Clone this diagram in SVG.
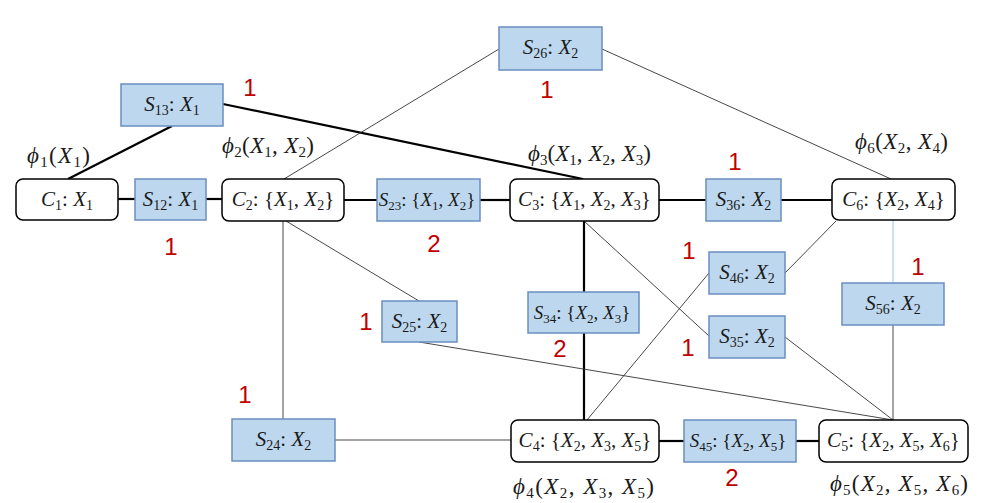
<svg xmlns="http://www.w3.org/2000/svg" width="986" height="503" viewBox="0 0 986 503">
<style>
.clq{fill:#fff;stroke:#000;stroke-width:1.5}
.sep{fill:#BDD7EE;stroke:#6A8FC0;stroke-width:1.5}
.lbl{font-family:"Liberation Serif","DejaVu Serif",serif;font-size:21px;fill:#1a1a1a;text-anchor:middle}
.sm{font-size:19px}
.phi{font-family:"Liberation Serif","DejaVu Serif",serif;font-size:23px;fill:#1a1a1a}
.i{font-style:italic}
.s{font-size:14px}
.sm .s{font-size:13px}
.phi .s{font-size:15px}
.num{font-family:"Liberation Sans","Open Sans",sans-serif;font-size:24px;fill:#C00000;text-anchor:middle}
.thick{stroke:#000;stroke-width:2.2;fill:none}
.thin{stroke:#333;stroke-width:0.9;fill:none}
.blue{stroke:#9DC3E6;stroke-width:1;fill:none}
</style>
<rect width="986" height="503" fill="#fff"/>
<g id="connectors">
<line class="thick" x1="118" y1="199" x2="135" y2="199"/>
<line class="thick" x1="206" y1="199" x2="222" y2="199"/>
<line class="thick" x1="344" y1="200" x2="377" y2="200"/>
<line class="thick" x1="480" y1="200" x2="510" y2="200"/>
<line class="thick" x1="659" y1="200" x2="706" y2="200"/>
<line class="thick" x1="781" y1="200" x2="832" y2="200"/>
<line class="thick" x1="584" y1="221" x2="584" y2="292"/>
<line class="thick" x1="584" y1="333" x2="584" y2="420"/>
<line class="thick" x1="659" y1="441" x2="684" y2="441"/>
<line class="thick" x1="796" y1="441" x2="819" y2="441"/>
<line class="thick" x1="172" y1="126" x2="68" y2="179"/>
<line class="thick" x1="223" y1="104" x2="583" y2="179"/>
<line class="thin" x1="499" y1="49" x2="284" y2="179"/>
<line class="thin" x1="602" y1="49" x2="891" y2="179"/>
<line class="thin" x1="286" y1="221" x2="419" y2="301"/>
<line class="thin" x1="419" y1="342" x2="893" y2="420"/>
<line class="thin" x1="283" y1="221" x2="283" y2="419"/>
<line class="thin" x1="335" y1="440" x2="511" y2="440"/>
<line class="thin" x1="584" y1="221" x2="709" y2="336"/>
<line class="thin" x1="785" y1="337" x2="893" y2="420"/>
<line class="thin" x1="587" y1="420" x2="709" y2="273"/>
<line class="thin" x1="785" y1="273" x2="836" y2="221"/>
<line class="blue" x1="893" y1="220" x2="893" y2="283"/>
<line class="thin" x1="893" y1="325" x2="893" y2="420"/>
</g>
<g id="C1"><rect class="clq" x="16" y="179" width="102" height="41" rx="7"/><text class="lbl" x="67" y="206"><tspan class="i">C</tspan><tspan class="s" dy="4">1</tspan><tspan dy="-4">: </tspan><tspan class="i">X</tspan><tspan class="s" dy="4">1</tspan></text></g>
<g id="S12"><rect class="sep" x="135" y="179" width="71" height="41"/><text class="lbl" x="170.5" y="206"><tspan class="i">S</tspan><tspan class="s" dy="4">12</tspan><tspan dy="-4">: </tspan><tspan class="i">X</tspan><tspan class="s" dy="4">1</tspan></text></g>
<g id="C2"><rect class="clq" x="222" y="179" width="122" height="42" rx="7"/><text class="lbl" x="283" y="206"><tspan class="i">C</tspan><tspan class="s" dy="4">2</tspan><tspan dy="-4">: {</tspan><tspan class="i">X</tspan><tspan class="s" dy="4">1</tspan><tspan dy="-4">, </tspan><tspan class="i">X</tspan><tspan class="s" dy="4">2</tspan><tspan dy="-4">}</tspan></text></g>
<g id="S23"><rect class="sep" x="377" y="179" width="103" height="42"/><text class="lbl sm" x="427" y="206"><tspan class="i">S</tspan><tspan class="s" dy="4">23</tspan><tspan dy="-4">: {</tspan><tspan class="i">X</tspan><tspan class="s" dy="4">1</tspan><tspan dy="-4">, </tspan><tspan class="i">X</tspan><tspan class="s" dy="4">2</tspan><tspan dy="-4">}</tspan></text></g>
<g id="C3"><rect class="clq" x="510" y="179" width="149" height="42" rx="7"/><text class="lbl" x="584.5" y="206"><tspan class="i">C</tspan><tspan class="s" dy="4">3</tspan><tspan dy="-4">: {</tspan><tspan class="i">X</tspan><tspan class="s" dy="4">1</tspan><tspan dy="-4">, </tspan><tspan class="i">X</tspan><tspan class="s" dy="4">2</tspan><tspan dy="-4">, </tspan><tspan class="i">X</tspan><tspan class="s" dy="4">3</tspan><tspan dy="-4">}</tspan></text></g>
<g id="S36"><rect class="sep" x="706" y="179" width="75" height="42"/><text class="lbl" x="743.5" y="206"><tspan class="i">S</tspan><tspan class="s" dy="4">36</tspan><tspan dy="-4">: </tspan><tspan class="i">X</tspan><tspan class="s" dy="4">2</tspan></text></g>
<g id="C6"><rect class="clq" x="832" y="179" width="123" height="41" rx="7"/><text class="lbl" x="893.5" y="206"><tspan class="i">C</tspan><tspan class="s" dy="4">6</tspan><tspan dy="-4">: {</tspan><tspan class="i">X</tspan><tspan class="s" dy="4">2</tspan><tspan dy="-4">, </tspan><tspan class="i">X</tspan><tspan class="s" dy="4">4</tspan><tspan dy="-4">}</tspan></text></g>
<g id="S13"><rect class="sep" x="121" y="84" width="102" height="42"/><text class="lbl" x="172" y="111"><tspan class="i">S</tspan><tspan class="s" dy="4">13</tspan><tspan dy="-4">: </tspan><tspan class="i">X</tspan><tspan class="s" dy="4">1</tspan></text></g>
<g id="S26"><rect class="sep" x="499" y="27" width="103" height="43"/><text class="lbl" x="550.5" y="54"><tspan class="i">S</tspan><tspan class="s" dy="4">26</tspan><tspan dy="-4">: </tspan><tspan class="i">X</tspan><tspan class="s" dy="4">2</tspan></text></g>
<g id="S46"><rect class="sep" x="709" y="252" width="76" height="42"/><text class="lbl" x="747" y="279"><tspan class="i">S</tspan><tspan class="s" dy="4">46</tspan><tspan dy="-4">: </tspan><tspan class="i">X</tspan><tspan class="s" dy="4">2</tspan></text></g>
<g id="S35"><rect class="sep" x="709" y="316" width="76" height="42"/><text class="lbl" x="747" y="343"><tspan class="i">S</tspan><tspan class="s" dy="4">35</tspan><tspan dy="-4">: </tspan><tspan class="i">X</tspan><tspan class="s" dy="4">2</tspan></text></g>
<g id="S56"><rect class="sep" x="842" y="283" width="102" height="42"/><text class="lbl" x="893" y="310"><tspan class="i">S</tspan><tspan class="s" dy="4">56</tspan><tspan dy="-4">: </tspan><tspan class="i">X</tspan><tspan class="s" dy="4">2</tspan></text></g>
<g id="S25"><rect class="sep" x="382" y="301" width="75" height="41"/><text class="lbl" x="419.5" y="328"><tspan class="i">S</tspan><tspan class="s" dy="4">25</tspan><tspan dy="-4">: </tspan><tspan class="i">X</tspan><tspan class="s" dy="4">2</tspan></text></g>
<g id="S34"><rect class="sep" x="528" y="292" width="111" height="41"/><text class="lbl sm" x="582" y="319"><tspan class="i">S</tspan><tspan class="s" dy="4">34</tspan><tspan dy="-4">: {</tspan><tspan class="i">X</tspan><tspan class="s" dy="4">2</tspan><tspan dy="-4">, </tspan><tspan class="i">X</tspan><tspan class="s" dy="4">3</tspan><tspan dy="-4">}</tspan></text></g>
<g id="S24"><rect class="sep" x="232" y="419" width="103" height="42"/><text class="lbl" x="283.5" y="446"><tspan class="i">S</tspan><tspan class="s" dy="4">24</tspan><tspan dy="-4">: </tspan><tspan class="i">X</tspan><tspan class="s" dy="4">2</tspan></text></g>
<g id="C4"><rect class="clq" x="511" y="420" width="148" height="42" rx="7"/><text class="lbl" x="585" y="447"><tspan class="i">C</tspan><tspan class="s" dy="4">4</tspan><tspan dy="-4">: {</tspan><tspan class="i">X</tspan><tspan class="s" dy="4">2</tspan><tspan dy="-4">, </tspan><tspan class="i">X</tspan><tspan class="s" dy="4">3</tspan><tspan dy="-4">, </tspan><tspan class="i">X</tspan><tspan class="s" dy="4">5</tspan><tspan dy="-4">}</tspan></text></g>
<g id="S45"><rect class="sep" x="684" y="420" width="112" height="42"/><text class="lbl sm" x="738" y="447"><tspan class="i">S</tspan><tspan class="s" dy="4">45</tspan><tspan dy="-4">: {</tspan><tspan class="i">X</tspan><tspan class="s" dy="4">2</tspan><tspan dy="-4">, </tspan><tspan class="i">X</tspan><tspan class="s" dy="4">5</tspan><tspan dy="-4">}</tspan></text></g>
<g id="C5"><rect class="clq" x="819" y="420" width="149" height="42" rx="7"/><text class="lbl" x="893.5" y="447"><tspan class="i">C</tspan><tspan class="s" dy="4">5</tspan><tspan dy="-4">: {</tspan><tspan class="i">X</tspan><tspan class="s" dy="4">2</tspan><tspan dy="-4">, </tspan><tspan class="i">X</tspan><tspan class="s" dy="4">5</tspan><tspan dy="-4">, </tspan><tspan class="i">X</tspan><tspan class="s" dy="4">6</tspan><tspan dy="-4">}</tspan></text></g>
<g id="potentials">
<text class="phi" x="27" y="163" textLength="63" lengthAdjust="spacing"><tspan class="i">ϕ</tspan><tspan class="s" dy="4">1</tspan><tspan dy="-4">(</tspan><tspan class="i">X</tspan><tspan class="s" dy="4">1</tspan><tspan dy="-4">)</tspan></text>
<text class="phi" x="222" y="153" textLength="92" lengthAdjust="spacing"><tspan class="i">ϕ</tspan><tspan class="s" dy="4">2</tspan><tspan dy="-4">(</tspan><tspan class="i">X</tspan><tspan class="s" dy="4">1</tspan><tspan dy="-4">, </tspan><tspan class="i">X</tspan><tspan class="s" dy="4">2</tspan><tspan dy="-4">)</tspan></text>
<text class="phi" x="528" y="161" textLength="123" lengthAdjust="spacing"><tspan class="i">ϕ</tspan><tspan class="s" dy="4">3</tspan><tspan dy="-4">(</tspan><tspan class="i">X</tspan><tspan class="s" dy="4">1</tspan><tspan dy="-4">, </tspan><tspan class="i">X</tspan><tspan class="s" dy="4">2</tspan><tspan dy="-4">, </tspan><tspan class="i">X</tspan><tspan class="s" dy="4">3</tspan><tspan dy="-4">)</tspan></text>
<text class="phi" x="855" y="149" textLength="93" lengthAdjust="spacing"><tspan class="i">ϕ</tspan><tspan class="s" dy="4">6</tspan><tspan dy="-4">(</tspan><tspan class="i">X</tspan><tspan class="s" dy="4">2</tspan><tspan dy="-4">, </tspan><tspan class="i">X</tspan><tspan class="s" dy="4">4</tspan><tspan dy="-4">)</tspan></text>
<text class="phi" x="513" y="494" textLength="141" lengthAdjust="spacing"><tspan class="i">ϕ</tspan><tspan class="s" dy="4">4</tspan><tspan dy="-4">(</tspan><tspan class="i">X</tspan><tspan class="s" dy="4">2</tspan><tspan dy="-4">, </tspan><tspan class="i">X</tspan><tspan class="s" dy="4">3</tspan><tspan dy="-4">, </tspan><tspan class="i">X</tspan><tspan class="s" dy="4">5</tspan><tspan dy="-4">)</tspan></text>
<text class="phi" x="830" y="491" textLength="138" lengthAdjust="spacing"><tspan class="i">ϕ</tspan><tspan class="s" dy="4">5</tspan><tspan dy="-4">(</tspan><tspan class="i">X</tspan><tspan class="s" dy="4">2</tspan><tspan dy="-4">, </tspan><tspan class="i">X</tspan><tspan class="s" dy="4">5</tspan><tspan dy="-4">, </tspan><tspan class="i">X</tspan><tspan class="s" dy="4">6</tspan><tspan dy="-4">)</tspan></text>
</g>
<g id="weights">
<text class="num" x="250" y="96">1</text>
<text class="num" x="171" y="255">1</text>
<text class="num" x="547" y="98">1</text>
<text class="num" x="434" y="252">2</text>
<text class="num" x="735" y="170">1</text>
<text class="num" x="689" y="259">1</text>
<text class="num" x="688" y="356">1</text>
<text class="num" x="918" y="275">1</text>
<text class="num" x="366" y="330">1</text>
<text class="num" x="560" y="357">2</text>
<text class="num" x="245" y="403">1</text>
<text class="num" x="732" y="486">2</text>
</g>
</svg>
